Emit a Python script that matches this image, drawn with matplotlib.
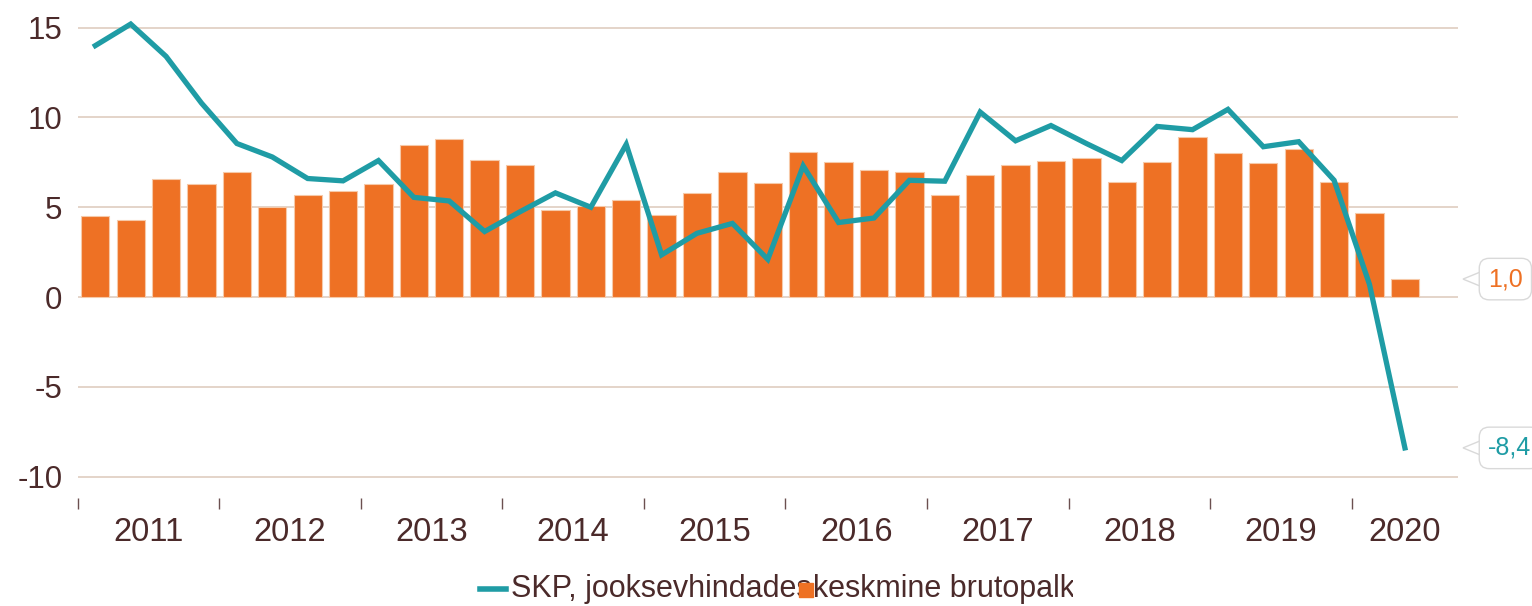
import numpy as np
import matplotlib
matplotlib.use("Agg")
import matplotlib.pyplot as plt
from matplotlib.patches import Polygon
from matplotlib.transforms import Bbox, TransformedBbox

# quarterly data, 2011 Q1 .. 2020 Q2
years = [str(y) for y in range(2011, 2021)]
wage = [4.5, 4.3, 6.6, 6.3, 6.95, 5.0, 5.7, 5.9, 6.3, 8.45, 8.8, 7.65, 7.35,
        4.85, 5.05, 5.4, 4.55, 5.8, 6.95, 6.35, 8.05, 7.5, 7.1, 6.95, 5.7,
        6.8, 7.35, 7.55, 7.75, 6.4, 7.5, 8.9, 8.0, 7.45, 8.25, 6.4, 4.7, 1.0]
gdp = [14.0, 15.2, 13.4, 10.8, 8.55, 7.8, 6.6, 6.47, 7.6, 5.55, 5.35, 3.65,
       4.75, 5.8, 5.0, 8.5, 2.35, 3.55, 4.1, 2.1, 7.3, 4.15, 4.4, 6.5, 6.45,
       10.3, 8.7, 9.55, 8.55, 7.6, 9.5, 9.32, 10.45, 8.37, 8.65, 6.5, 0.7, -8.4]
legend_labels = ["SKP, jooksevhindades", "keskmine brutopalk"]

ORANGE = "#ee7124"
TEAL = "#1f9ca5"
TEXT = "#4b2a2a"
GRID = "#e4d4c9"

plt.rcParams["font.family"] = ["Liberation Sans", "DejaVu Sans"]

W, H = 1532, 606
fig = plt.figure(figsize=(W / 100, H / 100), dpi=100)
ax = fig.add_axes([77.6 / W, (H - 498) / H, (1458 - 77.6) / W, (498 - 9.7) / H])

x = np.arange(len(wage))
ax.bar(x, wage, width=0.8, color=ORANGE, edgecolor="#f6c9a8", linewidth=0.8, zorder=2)
ax.plot(np.arange(len(gdp)), gdp, color=TEAL, lw=3.8, zorder=3, solid_joinstyle="miter")

ax.set_xlim(-0.5, 38.5)
ax.set_ylim(-11.19, 16.0)
ax.set_yticks([-10, -5, 0, 5, 10, 15])
ax.set_yticklabels(["-10", "-5", "0", "5", "10", "15"])
ax.grid(axis="y", color=GRID, lw=1.4, zorder=0)
for s in ax.spines.values():
    s.set_visible(False)
ax.tick_params(axis="y", length=0, pad=11, labelsize=22.5, labelcolor=TEXT)

# year boundaries as major ticks, labels on minor ticks
bounds = np.arange(len(years)) * 4 - 0.5
ax.set_xticks(bounds)
ax.set_xticklabels([])
mids = [b + 2 for b in bounds[:-1]] + [(bounds[-1] + 38.5) / 2]
ax.set_xticks(mids, minor=True)
ax.set_xticklabels(years, minor=True)
ax.tick_params(axis="x", which="major", length=8, width=1, color="#6b5050", direction="out")
ax.tick_params(axis="x", which="minor", length=0, pad=14, labelsize=23.5, labelcolor=TEXT)


# value callouts on the right
def callout(val, text, color):
    tip_x = 1463 / W
    tr = ax.get_yaxis_transform()
    yfig = fig.transFigure.inverted().transform(tr.transform((0, val)))[1]
    t = fig.text(1488 / W, yfig, text, color=color, fontsize=18, va="center", ha="left",
                 bbox=dict(boxstyle="round,pad=0.35,rounding_size=0.4", fc="white",
                           ec="#d9d9d9", lw=1.0), zorder=5)
    tri = Polygon([[tip_x, yfig], [1485 / W, yfig + 9 / H], [1485 / W, yfig - 9 / H]],
                  closed=True, fc="white", ec="#d9d9d9", lw=1.0,
                  transform=fig.transFigure, zorder=4)
    fig.patches.append(tri)
    return t


callout(wage[-1], "1,0", ORANGE)
callout(gdp[-1], "-8,4", TEAL)

# legend (overlapping as in the source)
ly = 1 - 589 / H
fig.lines.append(plt.Line2D([480 / W, 506 / W], [ly, ly], color=TEAL, lw=4,
                            transform=fig.transFigure))
fig.text(511 / W, ly, legend_labels[0], color=TEXT, fontsize=22, va="center", ha="left")
t2 = fig.text(813 / W, ly, legend_labels[1], color=TEXT, fontsize=22, va="center", ha="left")
t2.set_clip_box(TransformedBbox(Bbox([[0, 0], [1073 / W, 1]]), fig.transFigure))
t2.set_clip_on(True)
fig.patches.append(plt.Rectangle((799 / W, 1 - 597 / H), 14 / W, 14 / H, color=ORANGE,
                                 transform=fig.transFigure, zorder=6))

fig.savefig("out.png", dpi=100)
